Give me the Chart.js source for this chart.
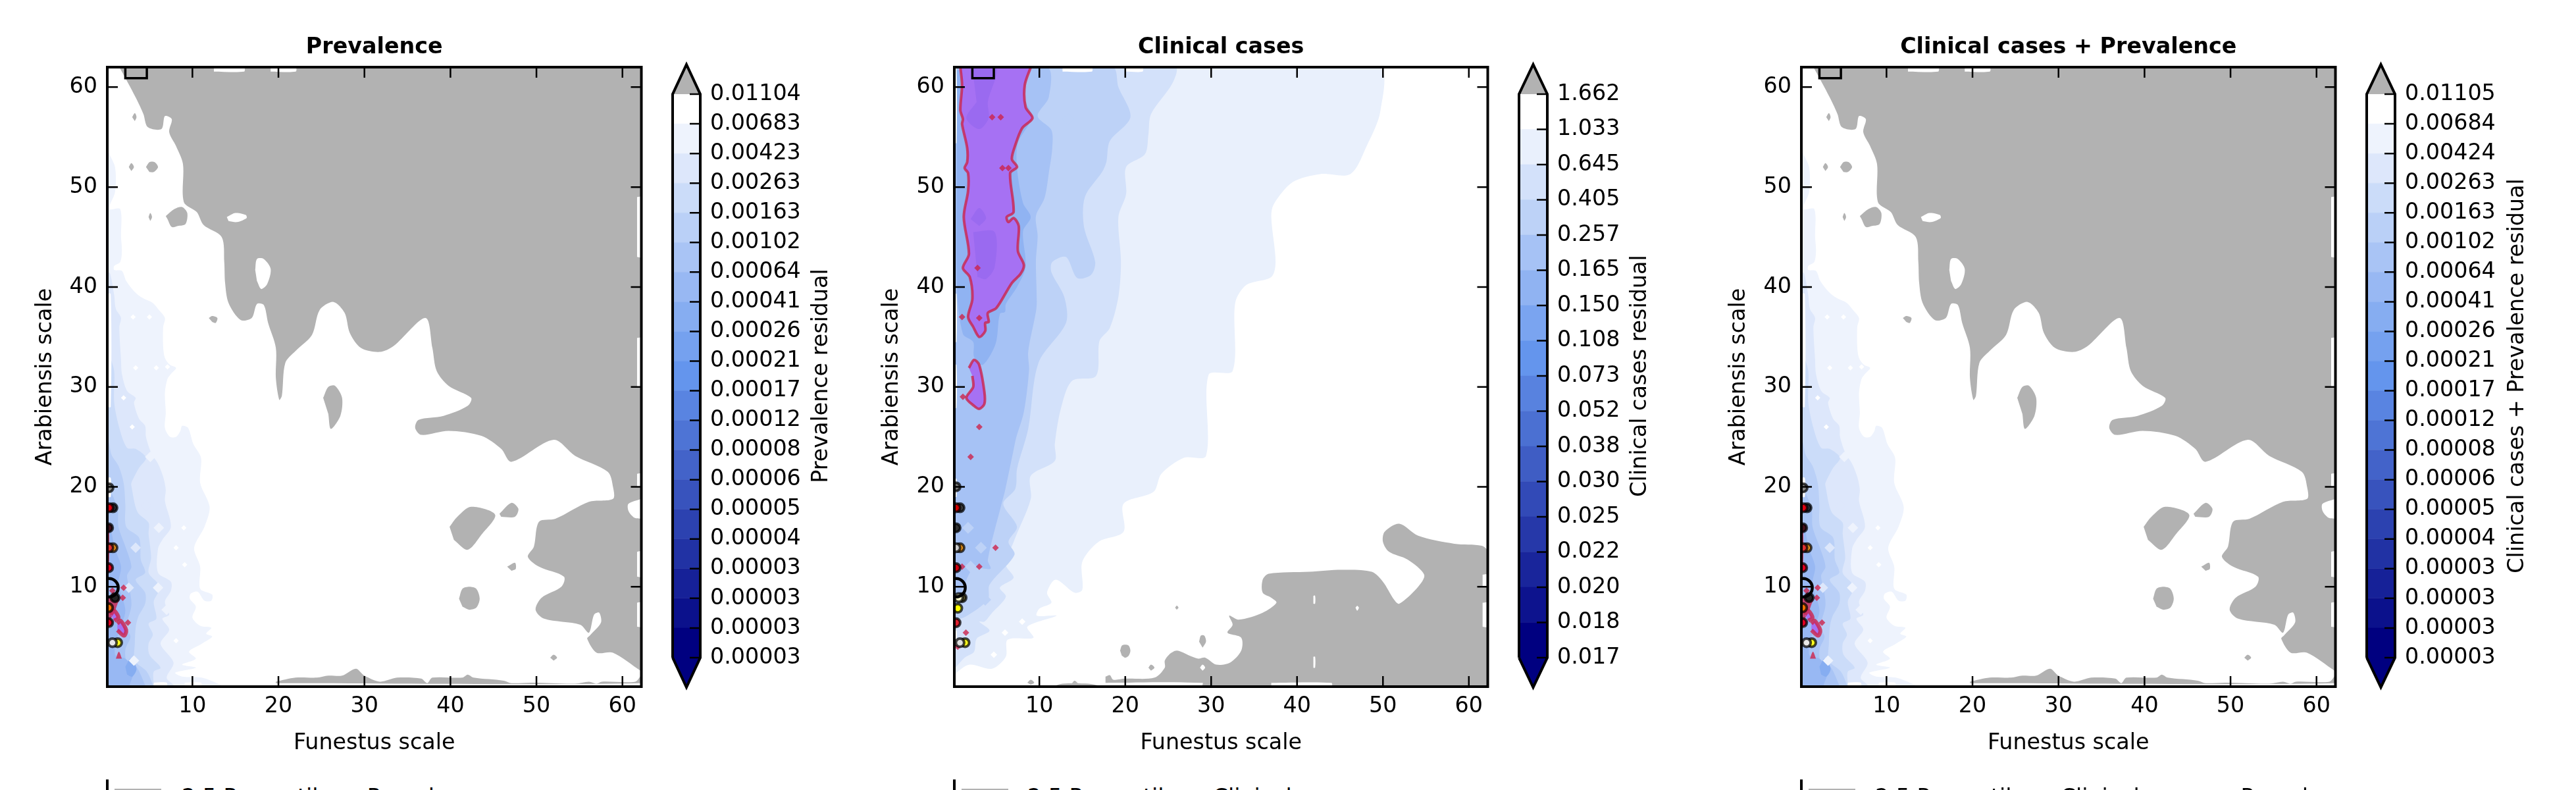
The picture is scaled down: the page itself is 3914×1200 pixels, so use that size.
<!DOCTYPE html>
<html>
<head>
<meta charset="utf-8">
<title>Residuals</title>
<script src="https://cdn.jsdelivr.net/npm/chart.js@4"></script>
<style>
  html, body { margin: 0; background: #fff; }
  #page { position: relative; width: 3914px; height: 1200px; overflow: hidden; background: #fff; }
  #page canvas { position: absolute; top: 0; }
  .leg { position: absolute; }
  .legText { position: absolute; top: 1191px; font: 33.33px/40px "DejaVu Sans"; white-space: pre; color: #000; }
</style>
</head>
<body>
<div id="page"></div>
<script>
// colour bars, top band first
const prevLabels = ['0.01104','0.00683','0.00423','0.00263','0.00163','0.00102','0.00064','0.00041','0.00026','0.00021','0.00017','0.00012','0.00008','0.00006','0.00005','0.00004','0.00003','0.00003','0.00003','0.00003'];
const clinLabels = ['1.662','1.033','0.645','0.405','0.257','0.165','0.150','0.108','0.073','0.052','0.038','0.030','0.025','0.022','0.020','0.018','0.017'];
const bothLabels = ['0.01105','0.00684','0.00424','0.00263','0.00163','0.00102','0.00064','0.00041','0.00026','0.00021','0.00017','0.00012','0.00008','0.00006','0.00005','0.00004','0.00003','0.00003','0.00003','0.00003'];
const prevColors = ['#FFFFFF','#EEF3FD','#DDE7FB','#CBDCF9','#BAD0F7','#A9C4F5','#98B8F3','#86ADF1','#75A1EF','#6495ED','#5984E1','#4E74D5','#4363C9','#3853BD','#2C42B0','#2132A4','#162198','#0B118C','#000080'];
const clinColors = ['#FFFFFF','#E9F0FC','#D3E1FA','#BDD2F7','#A6C2F5','#90B3F2','#7AA4F0','#6495ED','#5882DF','#4B70D2','#3F5DC4','#324AB7','#2638A9','#19259B','#0D138E','#000080'];
const xTicks = [10, 20, 30, 40, 50, 60];
const yTicks = [10, 20, 30, 40, 50, 60];

// prevalence contours, flat x,y lists (also used for the combined panel)
const prevGray = [1.5,62, 2.4,60.6, 3.5,58.8, 4.3,57.3, 4.8,56, 6.4,55.8, 6.8,57.1, 7.6,56.8, 7.3,55.5, 8.1,54.1, 8.9,52.3, 9,48.5, 10.5,47.5, 11.3,46.2, 13.4,45, 13.7,42.5, 13.8,40.4, 14.2,38.4, 15.6,36.7, 16.9,36.9, 17.5,38.3, 18.3,38.2, 18.8,36.4, 19.7,33.9, 19.7,30.9, 20.1,28.7, 20.4,29.1, 20.8,32.4, 22,33.6, 23.9,35.2, 24.8,37.7, 26.4,38.5, 27.7,37.4, 28.3,35.4, 29.6,33.9, 31.8,33.5, 33.4,34.1, 37.1,36.9, 37.9,33.9, 38.4,31.6, 39.8,30.1, 42.4,28.9, 42,28.1, 39.2,27.1, 36.3,26.7, 35.9,25.9, 36.6,25.2, 39.8,25.6, 43.6,25.1, 45.9,23.8, 47.1,22.5, 52,24.7, 54.5,23.1, 58.3,21.5, 58.9,20, 58.9,18.8, 56.1,18.5, 52.2,16.8, 50.3,16.5, 49.7,14, 49,13, 50.3,12, 53.2,11, 52.9,10, 50.6,8.9, 49.9,7.7, 50.9,6.8, 55.1,6.2, 56.1,5.4, 56.7,7.2, 57.3,7.4, 57.5,6.4, 56.2,5.1, 55.9,4.8, 57,3.4, 58.9,3.4, 62.1,1.6, 62.2,1.6, 62.2,62];
const prevIslands = [
  [3,57, 3.3,57.4, 3.5,57, 3.3,56.6],
  [2.6,52, 2.9,52.4, 3.2,52, 2.9,51.6],
  [4.6,52, 5,52.5, 5.6,52.5, 6,52, 5.5,51.5, 5,51.5],
  [6.9,47.1, 7.9,47.8, 8.8,48, 9.4,47.4, 9.2,46.3, 8.3,46.1, 7.6,46, 7.1,46.8],
  [4.9,47, 5.1,47.4, 5.3,47, 5.1,46.6],
  [11.9,36.9, 12.3,37.1, 12.9,36.9, 12.7,36.4, 12.3,36.5],
  [25.2,28.9, 25.8,30, 26.6,30.1, 27.4,28.9, 27.2,27.1, 26.1,25.8, 25.8,27.3],
  [39.9,16, 40.8,17, 42.4,18, 45.2,17.2, 43.6,15.2, 42,13.7, 40.4,14.7],
  [45.7,17.3, 47.1,18.4, 47.9,17.8, 47.5,17, 45.9,17],
  [46.6,12, 47.5,12.4, 47.6,11.8, 47.1,11.6],
  [41,8.8, 41.4,9.8, 42.2,10, 43,9.8, 43.4,8.8, 43,7.9, 42.2,7.7, 41.4,8],
  [51.6,2.9, 52,3.2, 52.4,2.9, 52,2.6],
  [19.7,.5, 22,.9, 24.5,.9, 25.8,1.1, 27.4,1.1, 29,1.8, 30,1.1, 31.8,.5, 33.8,.9, 36.6,.8, 37.3,.35, 37.9,.9, 41.4,.9, 42,1.2, 42.7,.9, 46.2,.6, 47.1,.35, 49.4,.4, 54.5,.3, 56.1,.5, 57,.3, 57.6,.5, 61.5,.5, 62.2,1.1, 62.2,.35, 19.7,.35]
];
const prevHoles = [
  [14,47, 15,47.4, 16.2,47.2, 16.3,46.9, 15.2,46.5, 14.2,46.6],
  [17.3,41.7, 17.5,42.8, 18.3,42.8, 19.1,41.8, 18.7,40.3, 18,39.8, 17.5,40.6],
  [62.2,18.8, 60.7,18.3, 60.7,17.6, 61.4,16.9, 62.2,16.8]
];
const prevStrips = [
  [61.7,62.2,49,43], [61.7,62.2,34.9,30], [61.7,62.2,21.3,20], [61.7,62.2,13.5,11], [61.7,62.2,8.4,6],
  [12.5,16,62,61.55], [19.1,22,62,61.55],
  [.1,.5,39.3,28], [.1,.5,6.5,5.9], [.1,.5,20.9,19],
  [5.5,7,.4,0], [9.1,11,.4,0]
];
const prevBand1 = [0,56, .13,53.8, 1,52, 1,49.5, .3,47.8, 1.6,47.8, 1.7,45, 1.8,43.6, 1.6,42.5, .9,42.1, .9,41.7, 1.8,41.6, 2.3,40.6, 3.3,39.5, 4.2,38.9, 5.4,38.4, 6,37.8, 6.8,36.9, 6.6,36, 6.6,34, 6.8,32.9, 7.4,32.2, 8.1,31.9, 7.5,31.3, 7.1,30.8, 6.8,29.4, 6.9,27.4, 6.8,25.9, 7.4,25, 8.1,25, 8.6,25.6, 8.8,26.1, 9.5,25.9, 10.1,24.3, 11,22.9, 10.9,20.4, 12,18, 11.4,16, 10.2,13.9, 10.9,12, 10.9,9.8, 12.3,9.2, 12.2,8.6, 11.4,8.6, 10.6,9.5, 9.8,9.3, 9.7,8.8, 10.4,8, 10,6.9, 10.9,6.1, 12.2,5.9, 11.6,5.3, 12.3,5, 11.1,4.3, 9.6,3.5, 10.4,2.8, 8.8,2.2, 10.4,1.9, 8,1.4, 8.8,1, 11.1,.9, 13.3,.16, 13.3,0, 0,0];
const prevBand2 = [0,41.4, .4,41.4, .9,39.2, 1.1,37.8, 1.7,36.9, 1.5,36, 1.7,32.7, 1.8,31.3, 2.4,29.6, 3.4,28.9, 3.2,28.4, 3.8,26.8, 4.5,26.1, 4.6,25, 5.2,23.4, 6,22.3, 6.6,21, 6.9,19.7, 6.8,18.6, 7.5,16, 6.5,14.7, 6,13.8, 6,11.4, 7.5,10.5, 7.5,9.6, 6.8,8.5, 7.3,7.2, 6.5,6.8, 7.3,5.7, 6.3,4.3, 7.8,2.4, 7,.9, 7.8,.16, 7.8,0, 0,0];
const prevBand3 = [0,33.3, .25,33.3, .9,31.6, .9,28.5, 1.5,25.9, 2.4,23.9, 3.4,23.8, 4.6,22.9, 3.8,21.9, 2.9,20.4, 2.9,20.1, 3.6,17.5, 4.9,16.4, 4.9,15.3, 5.2,12.9, 4.9,11.4, 6,10.3, 6.1,9.6, 5.5,8.5, 5.8,6.8, 4.9,6.3, 5.4,5.2, 4.9,4.3, 5,3.2, 6.3,1.9, 5.5,1.5, 5.5,.16, 5.5,0, 0,0];
const prevBand4 = [0,24.5, .25,24.5, .6,23.2, 1.4,22.1, 2,20.4, 2.2,18.2, 2.3,16, 3.8,14.9, 4,12.7, 4.5,11.4, 3.4,10.7, 4.5,9.4, 4.5,8.3, 3.7,7, 3.4,5.9, 3.3,4.3, 3.3,2.6, 4.7,1.5, 5.4,.16, 5.4,0, 0,0];
const prevBand5 = [0,19.7, .4,19.7, 1.3,17.7, 1.4,16, 2.3,13.8, 2.9,12, 2.4,11.1, 2.7,9.8, 2.9,8.1, 2.3,5.9, 2.8,5, 2.2,3.7, 2.4,2.4, 3.4,2.1, 4.5,.16, 4.5,0, 0,0];
const prevBand6 = [0,16, .4,16, 1,13.8, 1.7,12, 1.4,10.3, 2.2,7.6, 1.4,5.4, 1,3.2, 2.2,2.8, 3.2,1.7, 2.7,.16, 2.7,0, 0,0];
const prevBand7 = [2.2,2, 2.8,2.8, 3.5,1.8, 3,1, 2.4,1.2];
const prevRings = [
  [1.27,6.3, 1.65,6.6, 2.3,5.65, 2.04,5.1, 1.27,5.65],
  [.5,7.2, .9,7.6, 1.4,6.9, .9,6.6]
];
const prevReds = [
  [1.1,2.8, 1.45,3.5, 1.8,2.8],
  [.1,16, .3,16, .3,12, .1,12],
  [.25,8.95, .9,9.4, 1.5,8.8, 1.3,8.3, .9,7.4, .4,6.75, .1,7]
];
const prevDotX = [2, 1.9, 2.5, .7];
const prevDotY = [9.9, 8.9, 6.4, 9.6];
const prevWhiteX = [3.1, 5, 3.4, 5.8, 7.1, 2, 3, 9.1, 8.1, 9, 8.1];
const prevWhiteY = [37, 37, 31.9, 31.9, 32, 28.9, 26, 12.2, 13.9, 15.9, 4.6];
const prevPaleX = [6, 5.1, 3.2, 7, 6.1];
const prevPaleY = [9.9, 23, 2.6, 7.7, 15.9];
const prevMidX = [4.6, 3.4, 2.6];
const prevMidY = [18.1, 13.9, 9.9];

// clinical cases contours
const clinGray = [17.7,1, 18.2,1.15, 18.6,.7, 20,.8, 23.4,.9, 24.6,1.9, 24.6,2.6, 25.1,3.2, 26,3.6, 27.5,3.1, 28.5,2.8, 29.3,2.9, 30.6,2.2, 32.2,2.4, 33.5,3.6, 33.5,4.9, 31.9,5.4, 32.5,6.2, 32.1,7.1, 33.2,6.7, 36,7.4, 37.6,8.4, 37,8.9, 36,9.4, 36,10.7, 36.7,11.3, 41.4,11.5, 45.2,11.7, 48.7,11.5, 50,10.5, 51.3,8.7, 51.9,8.3, 54.1,10, 54.8,11.2, 52.9,12.7, 50.7,13.5, 50,14.5, 50.2,15.5, 51.9,16.3, 54.1,15.1, 58.3,14.3, 61.5,14.1, 62.2,13.5, 62.2,0, 29,0, 29,.38, 17.7,.38];
const clinIslands = [
  [19.4,3.6, 19.6,4.1, 20,4.2, 20.4,4.1, 20.6,3.6, 20.4,3.1, 20,2.9, 19.6,3.1],
  [28.6,4.5, 28.8,5.1, 29.2,5.1, 29.4,4.5, 29,3.9],
  [22.7,1.9, 23,2.2, 23.4,1.9, 23,1.6],
  [25.8,7.9, 26,8.1, 26.2,7.9, 26,7.7],
  [8.6,.4, 9,.7, 9.4,.4, 9,.2],
  [13.8,.35, 14.1,.6, 14.5,.35],
  [11.8,.1, 12.7,.3, 15.7,.3, 17,.1]
];
const clinHoles = [
  [28.7,1.9, 29,2.2, 29.3,1.9, 29,1.6],
  [47,8.1, 47.2,7.9, 47,7.6, 46.8,7.9]
];
const clinStrips = [
  [41.9,42.1,9.1,8.3], [41.9,42.1,3,1.9],
  [61.6,62.2,11.2,10], [61.6,62.2,8.4,6],
  [18,28,.38,0], [37,44,.38,0],
  [12.7,16.1,62,61.55], [20,22,62,61.55],
  [.1,.35,61.9,54.4], [.1,.35,39.3,34.5], [.1,.35,32.2,27.9], [.1,.35,20.8,19], [.1,.35,5.6,4.1]
];
const clinBand1 = [0,62, 49.4,62, 49.7,57.6, 48.1,54.1, 46.2,51.3, 42.7,51.3, 39.5,50.5, 37.3,48.3, 37,47, 37.5,42.5, 37,41, 34.1,40.2, 32.8,38.4, 32.5,31.6, 29.7,31.2, 29.4,23.1, 26.8,22.9, 24.2,21.3, 23.3,19.5, 19.8,18.3, 19.8,15.5, 16.9,14.5, 15,12.5, 15,9.7, 14.1,9.4, 11.9,10.7, 10.9,9.4, 11.4,8.4, 10,7.8, 9.7,7.1, 12,7.1, 8.6,6, 9.3,4.9, 6.3,4.7, 6.1,3, 4.5,1.8, 1.9,2.2, .5,1.5, 0,1];
const clinBand2 = [0,62, 25.8,62, 25.5,60.4, 23,57.3, 22.7,55.3, 22.3,53.3, 20.1,52, 20.1,49.3, 19.2,47, 19.5,42.5, 19.2,39, 18.2,35.9, 17,34.6, 16.6,31.1, 13.8,30.6, 12.5,27.8, 11.8,24.3, 11.8,22.6, 9,21.1, 9,18.8, 7.1,14.7, 6.1,12.2, 7,10.9, 5.4,9.9, 6.1,9, 4.5,7.4, 3.6,6.5, 3,6.5, 4.2,5.6, 2.7,4.8, 2.4,3.5, 1.3,2.9, .2,1.9, 0,1.9];
const clinBand3 = [0,62, 18.5,62, 19.2,60, 20.6,57, 18.2,54.6, 17.8,52.5, 17.3,51.5, 15.3,49, 15.2,46, 16.5,42.5, 16,41.2, 14.4,40.9, 13.1,43, 11.5,42.5, 11.4,41.5, 12.9,39, 13.1,36.4, 9.9,32.4, 8.7,25.8, 7.4,21.8, 7.2,19.8, 5.8,18.3, 7.4,16, 6.4,14.5, 7.1,13.2, 4.2,10.2, 4,8.7, 1.4,7, .2,6.7, 0,6.7];
const clinBand4 = [0,62, 10.9,62, 11.1,59, 9.8,57.1, 11.4,55.7, 11.5,53.9, 11.1,51.4, 10.6,48.9, 9.6,47.1, 9.8,45.1, 9.6,42.6, 9.7,38.5, 9.6,37.5, 8.7,33.5, 8.8,31.7, 8.2,27.5, 7.3,24.9, 7,23.7, 6,19.6, 5.6,18.3, 4,12.7, 4.3,11.8, 2.3,11.8, 1.1,9.8, .6,8.3, 0,8.3];
const clinBand5 = [.4,61.7, 8.4,62, 8.2,59, 9.1,57, 7.5,54.4, 7.4,51.9, 8.1,48.4, 9,47, 8.1,45.6, 8.4,42, 7.4,40, 6.1,38.3, 6,37.5, 5.4,37.3, 4.9,34.3, 3.4,32.2, 2.4,33, 2.3,34.5, 1.1,35.3, .4,40, .4,55.2];
const clinPurple1 = [.8,62, 1,60.2, .8,57.7, 1.1,56.8, 1,56.3, 1.6,53.9, 1.6,52.5, 1.3,51.9, 1.7,51.4, 1.7,49.6, 1.2,47, 1.8,43.3, 1.1,41.9, 1.9,41, 2.2,38.8, 1.7,37, 2.3,36, 3,35, 3.7,35.6, 3.7,36.4, 4.1,36.5, 4,37.4, 5,37.9, 6.8,40.4, 7.8,41.3, 8.2,42.2, 7.5,43.6, 7.6,46.1, 7,46.9, 6.4,46.5, 6.2,47, 7,47.5, 6.6,51.4, 7.4,52, 6.8,52.8, 7.2,54.2, 8,55.9, 9.2,56.9, 8.4,58, 8.3,60.2, 9,62];
const clinPurple2 = [1.8,31.9, 2.4,32.7, 3,32.2, 3.6,29.5, 3.6,28.3, 3,27.8, 2.4,28.1, 1.5,28.9, 2.3,30, 2.2,31.1];
const clinDeep = [
  [2.2,61.9, 5,61.9, 4,58.5, 4.1,56.9, 3,55.8, 1.5,56.9, 2.7,58.5],
  [2,46.8, 3,47.9, 3.8,46.9, 3,46.1],
  [2.3,45.5, 4.8,45.5, 4.8,42, 3.8,40.8, 2.8,41]
];
const clinDotX = [4.5, 5.5, 2.8, 3, 1, 6.4, 5.7, 1.1, 3, 2, 4.9, 3, 1, 1.45, .5];
const clinDotY = [57, 57, 41.9, 36.9, 37, 51.9, 51.9, 29, 26, 23, 13.9, 12, 12, 5.4, 4];
const clinMidX = [13.3, 16.2, 1.7, 3.2, 2, 3.7];
const clinMidY = [56.8, 56.9, 15.9, 13.9, 12, 8.7];
const clinWhiteX = [8, 6, 4.7];
const clinWhiteY = [6.5, 5.4, 3.2];

// sites on the left edge
const prevMarkX = [.3, .76, .3, .25, .76, .3, .25, 1, .25, .25, 1.3, .7];
const prevMarkY = [19.9, 17.9, 17.9, 15.9, 13.9, 13.9, 11.9, 8.9, 7.9, 6.4, 4.4, 4.4];
const prevMarkFill = ['#888888','#2A2F3A','#E00010','#40101A','#FFA020','#E03030','#E00020','#222222','#F07000','#E00020','#FFFF20','#E8E8E8'];
const clinMarkX = [.3, .76, .3, .3, .76, .3, .3, 1, .6, .5, .3, 1.35, .76];
const clinMarkY = [20, 17.9, 17.9, 15.9, 13.9, 13.9, 11.9, 8.9, 8.9, 7.85, 6.4, 4.4, 4.4];
const clinMarkFill = ['#777777','#444444','#D00000','#333333','#FFA020','#CCCCCC','#D00010','#666030','#F5F5C8','#FFFF00','#E02030','#FFFF20','#E0E0E0'];
const ringX = [.3], ringY = [9.9];
const boxX = [2.2, 4.7, 4.7, 2.2], boxY = [62.5, 62.5, 60.9, 60.9];

const GRAY = '#B2B2B2', PURPLE = '#A671F3', CRIMSON = 'rgba(205,35,75,0.8)';

Chart.defaults.font.family = '"DejaVu Sans"';
Chart.defaults.font.size = 33.33;
Chart.defaults.color = '#000';

function pts(flat) {
  let out = [];
  for (let i = 0; i < flat.length; i += 2) out.push({x: flat[i], y: flat[i + 1]});
  return out;
}
function area(flat, color, border, width) {
  return {
    type: 'scatter', data: pts(flat), showLine: true, fill: 'shape', backgroundColor: color,
    borderColor: border || color, borderWidth: width || 0, pointRadius: 0, tension: 0.3, clip: 0
  };
}
function rect(r) { return area([r[0],r[2], r[1],r[2], r[1],r[3], r[0],r[3]], '#FFFFFF'); }
function dots(xs, ys, color, r) {
  return {
    type: 'scatter', data: xs.map((x, i) => ({x: x, y: ys[i]})), showLine: false,
    pointStyle: 'rectRot', pointRadius: r, backgroundColor: color, pointBorderWidth: 0, clip: 0
  };
}
function marks(xs, ys, fills) {
  return {
    type: 'scatter', data: xs.map((x, i) => ({x: x, y: ys[i]})), showLine: false, clip: 0,
    pointRadius: 6.3, pointBackgroundColor: fills, pointBorderColor: 'rgba(0,0,0,0.72)', pointBorderWidth: 4
  };
}

function prevLayers(markX, markY, markFill) {
  let c = prevColors;
  let list = [
    area(prevBand1, c[1]), area(prevBand2, c[2]), area(prevBand3, c[3]), area(prevBand4, c[4]),
    area(prevBand5, c[5]), area(prevBand6, c[6]), area(prevBand7, c[7]),
    dots(prevPaleX, prevPaleY, c[1], 8), dots(prevMidX, prevMidY, c[2], 8), dots(prevWhiteX, prevWhiteY, '#FFFFFF', 4),
    area(prevGray, GRAY)
  ];
  prevIslands.forEach(p => list.push(area(p, GRAY)));
  prevHoles.forEach(p => list.push(area(p, '#FFFFFF')));
  prevStrips.forEach(r => list.push(rect(r)));
  prevReds.forEach(p => list.push(area(p, CRIMSON)));
  prevRings.forEach(p => list.push(area(p, PURPLE, CRIMSON, 6)));
  list.push(dots(prevDotX, prevDotY, CRIMSON, 5));
  list.push(marks(markX, markY, markFill));
  return list;
}
function clinLayers() {
  let c = clinColors;
  let list = [
    area(clinBand1, c[1]), area(clinBand2, c[2]), area(clinBand3, c[3]), area(clinBand4, c[4]), area(clinBand5, c[5]),
    dots(clinMidX, clinMidY, c[3], 9), dots(clinWhiteX, clinWhiteY, '#FFFFFF', 5),
    area(clinGray, GRAY)
  ];
  clinIslands.forEach(p => list.push(area(p, GRAY)));
  clinHoles.forEach(p => list.push(area(p, '#FFFFFF')));
  clinStrips.forEach(r => list.push(rect(r)));
  list.push(area(clinPurple1, PURPLE, CRIMSON, 4));
  list.push(area(clinPurple2, PURPLE, CRIMSON, 4));
  clinDeep.forEach(p => list.push(area(p, '#9A6AF0')));
  list.push(dots(clinDotX, clinDotY, CRIMSON, 5));
  list.push(marks(clinMarkX, clinMarkY, clinMarkFill));
  return list;
}

// inward ticks and frame, the way the plots have them
const frameTicks = {
  id: 'frameTicks',
  afterDatasetsDraw(chart) {
    let {ctx, chartArea: a, scales} = chart;
    ctx.save();
    ctx.strokeStyle = '#000';
    ctx.lineWidth = 2.5;
    ctx.beginPath();
    scales.x.ticks.forEach(t => {
      let px = scales.x.getPixelForValue(t.value);
      ctx.moveTo(px, a.top); ctx.lineTo(px, a.top + 16);
      ctx.moveTo(px, a.bottom); ctx.lineTo(px, a.bottom - 16);
    });
    scales.y.ticks.forEach(t => {
      let py = scales.y.getPixelForValue(t.value);
      ctx.moveTo(a.left, py); ctx.lineTo(a.left + 16, py);
      ctx.moveTo(a.right, py); ctx.lineTo(a.right - 16, py);
    });
    ctx.stroke();
    ctx.lineWidth = 4;
    ctx.strokeRect(a.left, a.top, a.right - a.left, a.bottom - a.top);
    ctx.restore();
  }
};

function makePanel(o) {
  let cv = document.createElement('canvas');
  // the "60" label keeps about 21px free at the right of the plot
  let w = o.plotRight + 21 - o.canvasLeft;
  cv.width = w; cv.height = 1153;
  cv.style.left = o.canvasLeft + 'px';
  document.getElementById('page').appendChild(cv);
  let ds = o.layers.concat([
    {type: 'scatter', data: boxX.map((x, i) => ({x: x, y: boxY[i]})).concat([{x: boxX[0], y: boxY[0]}]), showLine: true, fill: false,
     borderColor: '#000', borderWidth: 3.5, pointRadius: 0, tension: 0, clip: 0},
    {type: 'scatter', data: ringX.map((x, i) => ({x: x, y: ringY[i]})), showLine: false, clip: 0,
     pointRadius: 14, pointBackgroundColor: 'rgba(0,0,0,0)', pointBorderColor: '#000', pointBorderWidth: 4.5}
  ]);
  ds.forEach((d, i) => { d.order = ds.length - i; });
  new Chart(cv, {
    type: 'scatter',
    data: {datasets: ds},
    plugins: [frameTicks],
    options: {
      responsive: false, animation: false, devicePixelRatio: 1,
      plugins: {
        legend: {display: false}, tooltip: {enabled: false},
        title: {display: true, text: o.title, fullSize: false, color: '#000', font: {size: 33.33, weight: 'bold'}, padding: {top: 52, bottom: 10}}
      },
      scales: {
        x: {
          type: 'linear', min: .1, max: 62.2,
          grid: {display: false, drawTicks: false}, border: {display: false},
          afterBuildTicks(s) { s.ticks = xTicks.map(v => ({value: v})); },
          afterFit(s) { s.height = 110; },
          ticks: {padding: 10, maxRotation: 0, autoSkip: false, callback: v => String(v)},
          title: {display: true, text: 'Funestus scale', padding: {top: 4, bottom: 4}}
        },
        y: {
          type: 'linear', min: 0, max: 62,
          grid: {display: false, drawTicks: false}, border: {display: false},
          afterBuildTicks(s) { s.ticks = yTicks.map(v => ({value: v})); },
          afterFit(s) { s.width = o.plotLeft - o.canvasLeft; },
          ticks: {padding: 15, autoSkip: false, callback: v => String(v)},
          title: {display: true, text: 'Arabiensis scale', padding: {top: 3, bottom: 2}}
        }
      }
    }
  });
}

function makeBar(o) {
  let n = o.colors.length;
  let cv = document.createElement('canvas');
  cv.width = o.labelX + 30 - (o.barLeft - 20); cv.height = 1200;
  cv.style.left = (o.barLeft - 20) + 'px';
  document.getElementById('page').appendChild(cv);
  let ds = [];
  o.colors.forEach((c, i) => {
    let k = n - 1 - i;
    let d = area([0,k, 1,k, 1,k + 1, 0,k + 1], c);
    d.tension = 0; d.clip = false; d.borderColor = c; d.borderWidth = 0.5;
    ds.push(d);
  });
  let up = area([0,n, .5,n + o.tip, 1,n], GRAY);
  let down = area([0,0, .5,-o.tip, 1,0], o.colors[n - 1]);
  up.tension = 0; down.tension = 0; up.clip = false; down.clip = false;
  ds.push(up, down);
  ds.push({type: 'scatter', showLine: true, fill: false, tension: 0, clip: false, pointRadius: 0, borderColor: '#000', borderWidth: 4,
    data: pts([0,0, 0,n, .5,n + o.tip, 1,n, 1,0, .5,-o.tip, 0,0])});
  ds.forEach((d, i) => { d.order = ds.length - i; });
  new Chart(cv, {
    type: 'scatter',
    data: {datasets: ds},
    plugins: [{
      id: 'barTicks',
      afterDatasetsDraw(chart) {
        let {ctx, chartArea: a, scales} = chart;
        ctx.save();
        ctx.strokeStyle = '#000';
        ctx.lineWidth = 2.5;
        ctx.beginPath();
        scales.y.ticks.forEach(t => {
          let py = scales.y.getPixelForValue(t.value);
          ctx.moveTo(a.right, py); ctx.lineTo(a.right - 16, py);
        });
        ctx.stroke();
        ctx.restore();
      },
      afterDraw(chart) {
        let {ctx} = chart;
        ctx.save();
        ctx.translate(o.labelX - (o.barLeft - 20), chart.scales.y.getPixelForValue(n / 2));
        ctx.rotate(-Math.PI / 2);
        ctx.font = '33.33px "DejaVu Sans"';
        ctx.textAlign = 'center';
        ctx.textBaseline = 'middle';
        ctx.fillStyle = '#000';
        ctx.fillText(o.label, 0, 0);
        ctx.restore();
      }
    }],
    options: {
      responsive: false, animation: false, devicePixelRatio: 1,
      layout: {padding: {left: 20, top: 98, bottom: 156}},
      plugins: {legend: {display: false}, tooltip: {enabled: false}},
      scales: {
        x: {type: 'linear', min: 0, max: 1, display: false},
        y: {
          type: 'linear', position: 'right', min: -o.tip, max: n + o.tip,
          grid: {display: false, drawTicks: false}, border: {display: false},
          afterBuildTicks(s) { s.ticks = o.ticks.map((t, i) => ({value: n - i})); },
          afterFit(s) { s.width = o.labelX + 30 - o.barRight; },
          ticks: {padding: 15, autoSkip: false, callback: v => o.ticks[n - v]}
        }
      }
    }
  });
}

function makeLegend(frameX, patchX, textX, text) {
  let page = document.getElementById('page');
  let line = document.createElement('div');
  line.className = 'leg';
  line.style.cssText = 'left:' + (frameX - 2) + 'px;top:1184px;width:4px;height:16px;background:#000';
  let patch = document.createElement('div');
  patch.className = 'leg';
  patch.style.cssText = 'left:' + patchX + 'px;top:1198px;width:71px;height:2px;background:' + GRAY;
  let label = document.createElement('div');
  label.className = 'legText';
  label.style.left = textX + 'px';
  label.textContent = text;
  page.appendChild(line); page.appendChild(patch); page.appendChild(label);
}

makePanel({canvasLeft: 46, plotLeft: 163, plotRight: 972, title: 'Prevalence', layers: prevLayers(prevMarkX, prevMarkY, prevMarkFill)});
makePanel({canvasLeft: 1332, plotLeft: 1450, plotRight: 2258, title: 'Clinical cases', layers: clinLayers()});
makePanel({canvasLeft: 2619, plotLeft: 2737, plotRight: 3546, title: 'Clinical cases + Prevalence', layers: prevLayers(prevMarkX, prevMarkY, prevMarkFill)});

makeBar({barLeft: 1022, barRight: 1064, labelX: 1248, colors: prevColors, ticks: prevLabels, tip: 1, label: 'Prevalence residual'});
makeBar({barLeft: 2308, barRight: 2351, labelX: 2492, colors: clinColors, ticks: clinLabels, tip: .84, label: 'Clinical cases residual'});
makeBar({barLeft: 3596, barRight: 3639, labelX: 3825, colors: prevColors, ticks: bothLabels, tip: 1, label: 'Clinical cases + Prevalence residual'});

makeLegend(163, 174, 276, '2.5 Percentile:    Prevalence');
makeLegend(1450, 1461, 1561, '2.5 Percentile:    Clinical cases');
makeLegend(2737, 2748, 2849, '2.5 Percentile:    Clinical cases + Prevalence');
</script>
</body>
</html>
